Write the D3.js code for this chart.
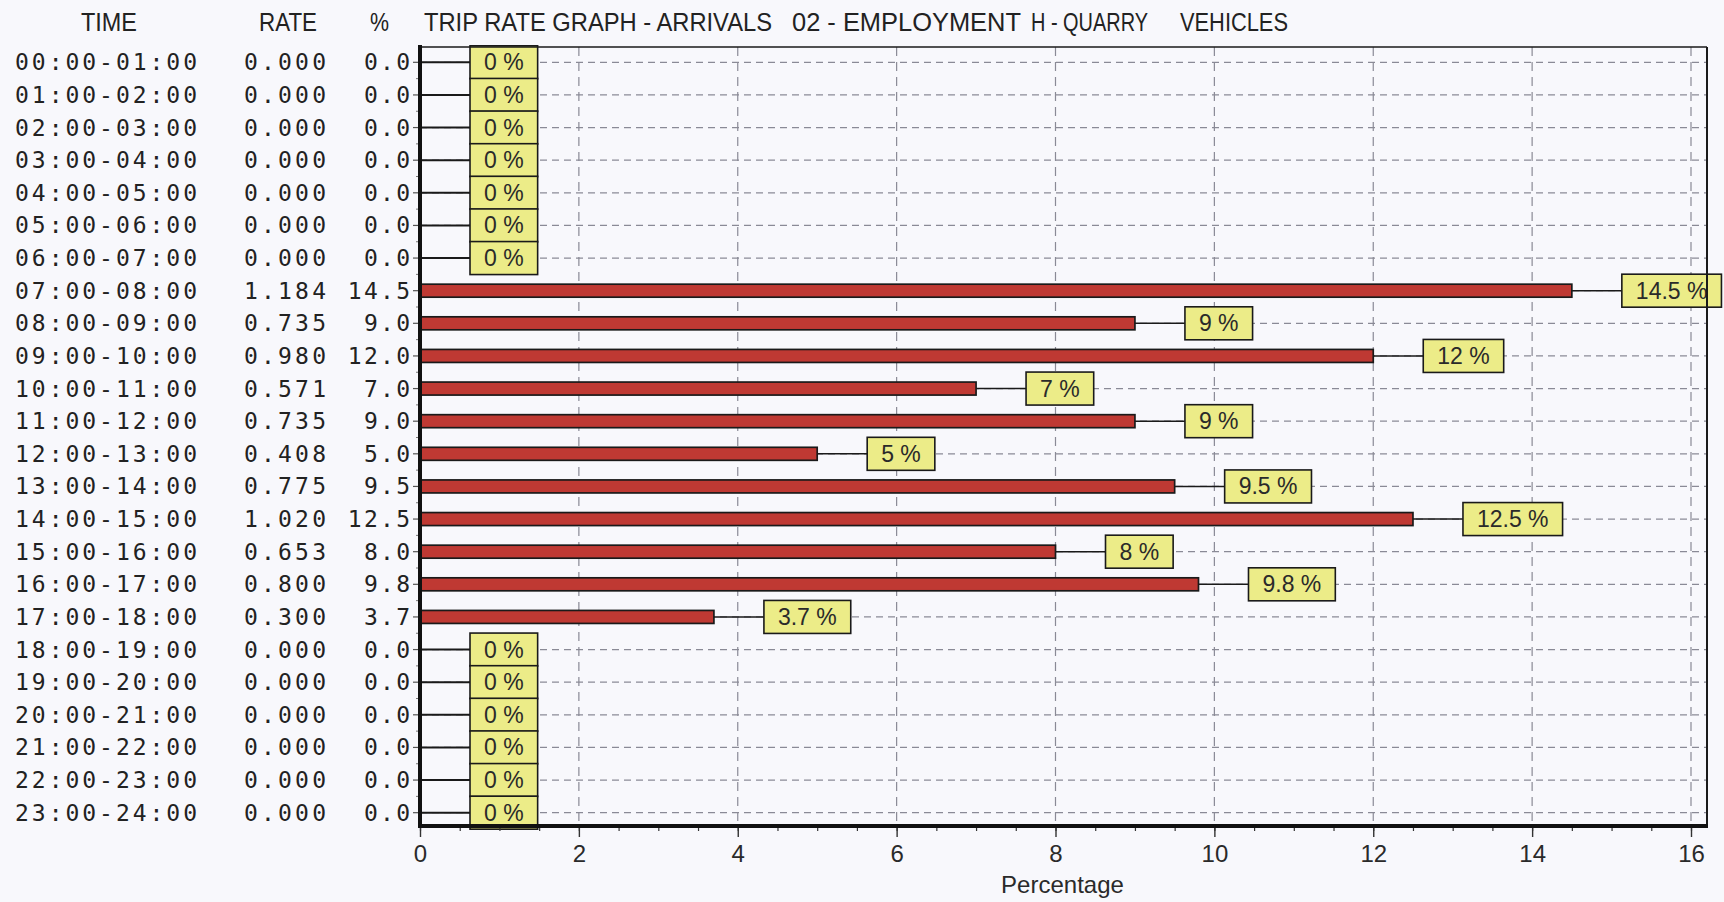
<!DOCTYPE html>
<html>
<head>
<meta charset="utf-8">
<script src="https://cdn.jsdelivr.net/npm/d3@7/dist/d3.min.js"></script>
<style>
  html, body { margin: 0; padding: 0; background: #f8f8fc; }
  svg { display: block; }
</style>
</head>
<body>
<svg id="chart" width="1724" height="902"></svg>
<script>
// Hourly arrival trip rates, employment / quarry, vehicles
const timeSlots = [
  "00:00-01:00","01:00-02:00","02:00-03:00","03:00-04:00","04:00-05:00","05:00-06:00",
  "06:00-07:00","07:00-08:00","08:00-09:00","09:00-10:00","10:00-11:00","11:00-12:00",
  "12:00-13:00","13:00-14:00","14:00-15:00","15:00-16:00","16:00-17:00","17:00-18:00",
  "18:00-19:00","19:00-20:00","20:00-21:00","21:00-22:00","22:00-23:00","23:00-24:00"
];
const rates = [
  0.000, 0.000, 0.000, 0.000, 0.000, 0.000,
  0.000, 1.184, 0.735, 0.980, 0.571, 0.735,
  0.408, 0.775, 1.020, 0.653, 0.800, 0.300,
  0.000, 0.000, 0.000, 0.000, 0.000, 0.000
];
const percents = [
  0.0, 0.0, 0.0, 0.0, 0.0, 0.0,
  0.0, 14.5, 9.0, 12.0, 7.0, 9.0,
  5.0, 9.5, 12.5, 8.0, 9.8, 3.7,
  0.0, 0.0, 0.0, 0.0, 0.0, 0.0
];
const xTicks = [0, 2, 4, 6, 8, 10, 12, 14, 16];
const headers = ["TIME", "RATE", "%"];
const titleParts = ["TRIP RATE GRAPH - ARRIVALS", "02 - EMPLOYMENT", "H - QUARRY", "VEHICLES"];
const xTitle = "Percentage";

const rows = timeSlots.map((t, i) => ({ time: t, rate: rates[i], pct: percents[i] }));

const svg = d3.select("#chart");
const plot = { left: 420, right: 1707, top: 47, bottom: 826 };

const x = d3.scaleLinear().domain([0, 16]).range([420, 1691]);
const y = d3.scaleBand().domain(timeSlots).range([46, 829]);
const yc = t => y(t) + y.bandwidth() / 2;

const sansFont = "'Liberation Sans', Arial, sans-serif";
const monoFont = "'DejaVu Sans Mono', 'Liberation Mono', monospace";

// Header row (condensed lettering)
const headerX = [81, 259, 370];
const headerW = [56, 58, 19];
svg.selectAll("text.hdr").data(headers).join("text")
  .attr("class", "hdr")
  .attr("x", (d, i) => headerX[i]).attr("y", 31)
  .attr("textLength", (d, i) => headerW[i]).attr("lengthAdjust", "spacingAndGlyphs")
  .attr("font-family", sansFont).attr("font-size", 25).attr("fill", "#222")
  .text(d => d);

const titleX = [424, 792, 1031, 1180];
const titleW = [348, 229, 117, 108];
svg.selectAll("text.ttl").data(titleParts).join("text")
  .attr("class", "ttl")
  .attr("x", (d, i) => titleX[i]).attr("y", 31)
  .attr("textLength", (d, i) => titleW[i]).attr("lengthAdjust", "spacingAndGlyphs")
  .attr("font-family", sansFont).attr("font-size", 25).attr("fill", "#222")
  .text(d => d);

// Row labels: time, rate, percent
const rowText = svg.append("g").attr("font-family", monoFont).attr("font-size", 23).attr("fill", "#222");
rowText.selectAll("text.time").data(rows).join("text")
  .attr("class", "time")
  .attr("x", 15).attr("y", d => yc(d.time) + 8)
  .attr("textLength", 182).attr("lengthAdjust", "spacing")
  .text(d => d.time);
rowText.selectAll("text.rate").data(rows).join("text")
  .attr("class", "rate")
  .attr("x", 244).attr("y", d => yc(d.time) + 8)
  .attr("textLength", 82).attr("lengthAdjust", "spacing")
  .text(d => d.rate.toFixed(3));
rowText.selectAll("text.pct").data(rows).join("text")
  .attr("class", "pct")
  .attr("x", 410).attr("y", d => yc(d.time) + 8)
  .attr("text-anchor", "end")
  .text(d => d.pct.toFixed(1))
  .each(function () {
    const s = this.textContent;
    d3.select(this).attr("textLength", s.length * 16.3 - 3).attr("lengthAdjust", "spacing");
  });

// Grid
const grid = svg.append("g").attr("stroke", "#8a8a96").attr("stroke-width", 1.2).attr("stroke-dasharray", "7,5");
grid.selectAll("line.h").data(timeSlots).join("line")
  .attr("class", "h")
  .attr("x1", plot.left).attr("x2", plot.right)
  .attr("y1", d => yc(d)).attr("y2", d => yc(d));
grid.selectAll("line.v").data(xTicks.filter(v => v > 0)).join("line")
  .attr("class", "v")
  .attr("x1", d => x(d)).attr("x2", d => x(d))
  .attr("y1", plot.top).attr("y2", plot.bottom)
  .attr("stroke-dasharray", "9,6");

// Bars
svg.append("g").selectAll("rect").data(rows.filter(d => d.pct > 0)).join("rect")
  .attr("x", x(0)).attr("y", d => yc(d.time) - 6.5)
  .attr("width", d => x(d.pct) - x(0)).attr("height", 13)
  .attr("fill", "#bf3933").attr("stroke", "#1a1a1a").attr("stroke-width", 1.7);

// Value labels with leader lines
const gap = 50;
const labels = svg.append("g");
labels.selectAll("line").data(rows).join("line")
  .attr("x1", d => x(d.pct)).attr("x2", d => x(d.pct) + gap)
  .attr("y1", d => yc(d.time)).attr("y2", d => yc(d.time))
  .attr("stroke", "#1a1a1a").attr("stroke-width", d => d.pct > 0 ? 1.4 : 2);

const lab = labels.selectAll("g.lab").data(rows).join("g").attr("class", "lab");
lab.append("rect");
lab.append("text")
  .attr("font-family", sansFont).attr("font-size", 23).attr("fill", "#2a2a2a")
  .attr("x", d => x(d.pct) + gap + 14)
  .attr("y", d => yc(d.time) + 8)
  .text(d => (+d.pct.toFixed(1)) + " %");
lab.each(function (d) {
  const g = d3.select(this);
  const w = g.select("text").node().getComputedTextLength();
  g.select("rect")
    .attr("x", x(d.pct) + gap).attr("y", yc(d.time) - 16.5)
    .attr("width", w + 28).attr("height", 33)
    .attr("fill", "#ecec88").attr("stroke", "#1a1a1a").attr("stroke-width", 1.6);
});

// Frame: thin top/right, heavy left/bottom
svg.append("line").attr("x1", plot.left).attr("x2", plot.right).attr("y1", plot.top).attr("y2", plot.top)
  .attr("stroke", "#1a1a1a").attr("stroke-width", 1.6);
svg.append("line").attr("x1", plot.right).attr("x2", plot.right).attr("y1", plot.top).attr("y2", plot.bottom)
  .attr("stroke", "#1a1a1a").attr("stroke-width", 2);

// X axis (major + minor ticks)
const xMinor = d3.range(0, 16.01, 0.5);
const xAxisMinor = d3.axisBottom(x).tickValues(xMinor).tickSize(5).tickFormat("");
const xAxis = d3.axisBottom(x).tickValues(xTicks).tickSize(11).tickPadding(8).tickFormat(d3.format("d"));
const gxm = svg.append("g").attr("transform", `translate(0,${plot.bottom})`).call(xAxisMinor);
gxm.select(".domain").remove();
gxm.selectAll("line").attr("stroke", "#333").attr("stroke-width", 1.2);
const gx = svg.append("g").attr("transform", `translate(0,${plot.bottom})`).call(xAxis);
gx.select(".domain").remove();
gx.selectAll("line").attr("stroke", "#333").attr("stroke-width", 1.4);
gx.selectAll("text").attr("font-family", sansFont).attr("font-size", 24).attr("fill", "#2a2a2a");
svg.append("line").attr("x1", plot.left - 2).attr("x2", plot.right + 1).attr("y1", plot.bottom).attr("y2", plot.bottom)
  .attr("stroke", "#111").attr("stroke-width", 4);

// Y axis: heavy line with row ticks and minor ticks at band edges
const yAxisG = svg.append("g");
yAxisG.selectAll("line.rt").data(timeSlots).join("line")
  .attr("class", "rt")
  .attr("x1", plot.left - 7).attr("x2", plot.left)
  .attr("y1", d => yc(d)).attr("y2", d => yc(d))
  .attr("stroke", "#555").attr("stroke-width", 1.2);
yAxisG.selectAll("line.mt").data(timeSlots.slice(1)).join("line")
  .attr("class", "mt")
  .attr("x1", plot.left - 4).attr("x2", plot.left)
  .attr("y1", d => y(d)).attr("y2", d => y(d))
  .attr("stroke", "#777").attr("stroke-width", 1);
svg.append("line").attr("x1", plot.left).attr("x2", plot.left).attr("y1", plot.top - 2).attr("y2", plot.bottom + 2)
  .attr("stroke", "#111").attr("stroke-width", 4);

// Axis title
svg.append("text")
  .attr("x", (x(0) + x(16)) / 2 + 7).attr("y", 893)
  .attr("text-anchor", "middle")
  .attr("font-family", sansFont).attr("font-size", 24).attr("fill", "#2a2a2a")
  .text(xTitle);
</script>
</body>
</html>
